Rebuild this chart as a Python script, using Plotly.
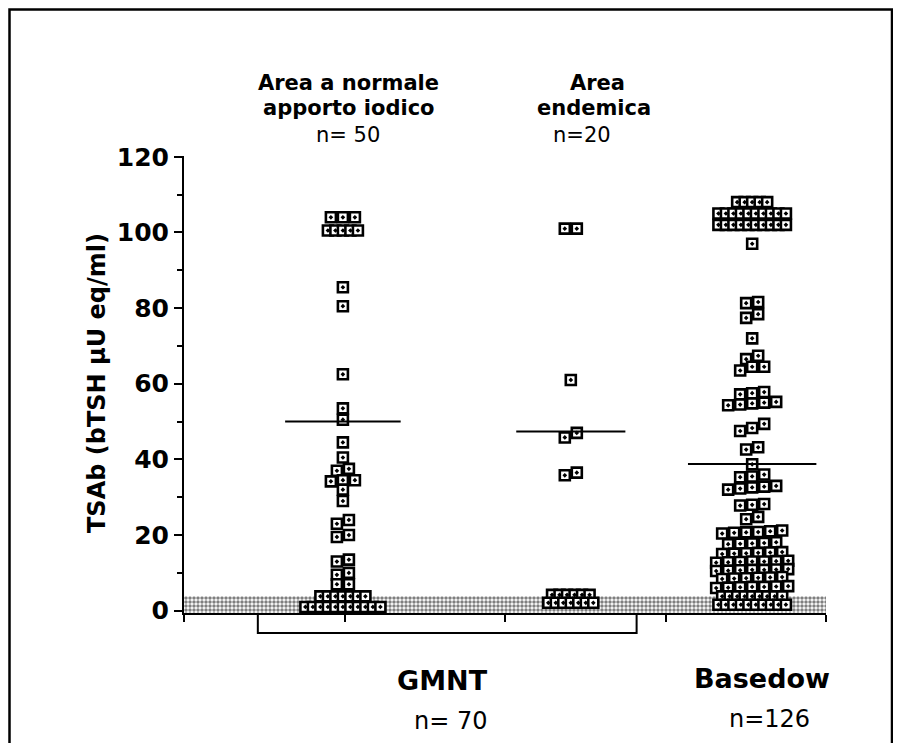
import plotly.graph_objects as go

# ---------------- data ----------------
group_names = ["Area a normale apporto iodico", "Area endemica", "Basedow"]
group_n = [50, 20, 126]

normal_iodine = ([104, 104, 104] + [100.5] * 5 +
                 [85.5, 80.5, 62.5, 53.5, 50.5, 44.5, 40.5,
                  37.5, 37, 34.5, 34.5, 34.2, 32, 29,
                  24, 23, 20, 19.5, 13.5, 13, 10, 9.5, 7, 7] +
                 [3.8] * 7 + [1.0] * 11)

endemic_area = ([101, 101, 61, 47, 45.8, 36.5, 35.8] +
                [4.2] * 6 + [2.1] * 7)

basedow = ([108] * 5 + [105] * 10 + [102] * 10 +
           [97, 81.6, 81.3, 78.4, 77.4, 72, 67.4, 66.5,
            64.5, 64.5, 63.5, 57.8, 57.5, 57.2,
            55.0, 54.5, 55.2, 54.8, 54.3,
            49.4, 48.3, 47.5, 43.2, 42.6, 38.7,
            35.3, 36.0, 35.5,
            32.8, 32.3, 32.0, 32.6, 33.0,
            28.2, 27.8, 28.0,
            24.8, 24.2,
            21.0, 20.6, 20.8, 20.4, 21.2, 20.7,
            17.9, 17.6, 18.1, 17.7, 17.8,
            15.4, 15.0, 15.2, 15.5, 15.1, 15.3,
            13.0, 12.8, 13.2, 12.9, 13.1, 12.7, 13.0,
            10.8, 10.6, 11.0, 10.7, 10.9, 10.5, 10.8,
            8.7, 8.5, 8.9, 8.6, 8.8, 8.4,
            6.3, 6.1, 6.5, 6.2, 6.4, 6.0, 6.3] +
           [3.8] * 9 + [1.6] * 10)

group_means = [50.0, 47.4, 38.8]
reference_band = (-1.0, 3.8)      # stippled normal range of the assay
y_ticks = [0, 20, 40, 60, 80, 100, 120]

# ---------------- layout constants ----------------
# the page body has an 8px margin, so figure coords = page coords - 8
OFF = 8
W, H = 901 - 2 * OFF, 751 - 2 * OFF
PLOT_LEFT, PLOT_RIGHT, PLOT_TOP, PLOT_BOTTOM = 184, 826, 156, 613  # page px
PW, PH = PLOT_RIGHT - PLOT_LEFT, PLOT_BOTTOM - PLOT_TOP
L, T = PLOT_LEFT - OFF, PLOT_TOP - OFF
R, B = W - L - PW, H - T - PH
X_RANGE = [0, 4]
Y_RANGE = [-0.6, 120.2]
PX_PER_X = PW / (X_RANGE[1] - X_RANGE[0])
col_x = [0.99, 2.41, 3.54]
mean_half = [0.36, 0.34, 0.40]
FONT = "DejaVu Sans"


def px(x):
    return (x - PLOT_LEFT) / PW


def py(y):
    return (PLOT_BOTTOM - y) / PH


def rows_of(values, tol=1.25):
    rows = []
    for v in sorted(values, reverse=True):
        if rows and rows[-1][-1] - v <= tol:
            rows[-1].append(v)
        else:
            rows.append([v])
    return rows


def swarm(values, center):
    xs, ys = [], []
    for row in rows_of(values):
        n = len(row)
        tight = n >= 4 and (max(row) - min(row)) < 0.05
        step = (7.5 if tight else 12.0) / PX_PER_X
        for i, v in enumerate(sorted(row)):
            xs.append(center + (i - (n - 1) / 2) * step)
            ys.append(v)
    return xs, ys


fig = go.Figure()

# stippled band
fig.add_trace(go.Scatter(
    x=[X_RANGE[0], X_RANGE[1], X_RANGE[1], X_RANGE[0], X_RANGE[0]],
    y=[reference_band[0], reference_band[0], reference_band[1],
       reference_band[1], reference_band[0]],
    mode="lines", fill="toself", line=dict(width=0),
    fillpattern=dict(shape=".", fgcolor="black", bgcolor="white",
                     size=4, solidity=0.6),
    hoverinfo="skip", showlegend=False))

for vals, cx, m, hw in zip([normal_iodine, endemic_area, basedow],
                           col_x, group_means, mean_half):
    xs, ys = swarm(vals, cx)
    fig.add_trace(go.Scatter(
        x=xs, y=ys, mode="markers", cliponaxis=False, showlegend=False,
        marker=dict(symbol="square-dot", size=10, color="white",
                    line=dict(color="black", width=2.6))))
    fig.add_trace(go.Scatter(
        x=[cx - hw, cx + hw], y=[m, m], mode="lines", showlegend=False,
        line=dict(color="black", width=2)))

annots = [
    ("<b>Area a normale</b>", 348, 83, 21),
    ("<b>apporto iodico</b>", 349, 108, 21),
    (f"n= {group_n[0]}", 348, 135, 21),
    ("<b>Area</b>", 597, 83, 21),
    ("<b>endemica</b>", 594, 108, 21),
    (f"n={group_n[1]}", 582, 135, 21),
    ("<b>GMNT</b>", 442, 680, 27),
    ("<b>Basedow</b>", 762, 678, 27),
    (f"n= {group_n[0] + group_n[1]}", 451, 721, 24),
    (f"n={group_n[2]}", 769, 719, 24),
]
annotations = [dict(text=t, x=px(x), y=py(y), xref="paper", yref="paper",
                    xanchor="center", yanchor="middle", showarrow=False,
                    font=dict(family=FONT, size=s, color="black"))
               for t, x, y, s in annots]
annotations.append(dict(
    text="<b>TSAb (bTSH µU eq/ml)</b>", x=px(97), y=py(383),
    xref="paper", yref="paper", xanchor="center", yanchor="middle",
    showarrow=False, textangle=-90,
    font=dict(family=FONT, size=24, color="black")))

shapes = [
    # bracket grouping the two GMNT columns
    dict(type="path", xref="x", yref="paper",
         path=(f"M{col_x[0] - 0.53},0 L{col_x[0] - 0.53},{-20 / PH} "
               f"L{col_x[1] + 0.41},{-20 / PH} L{col_x[1] + 0.41},0"),
         line=dict(color="black", width=2)),
    # outer frame
    dict(type="rect", xref="paper", yref="paper",
         x0=px(9.5), x1=px(892), y0=py(760), y1=py(9.5),
         line=dict(color="black", width=2.5)),
]

fig.update_layout(
    width=W, height=H,
    margin=dict(l=L, r=R, t=T, b=B, pad=0),
    paper_bgcolor="white", plot_bgcolor="white",
    font=dict(family=FONT, color="black"),
    annotations=annotations, shapes=shapes,
    xaxis=dict(range=X_RANGE, showgrid=False, zeroline=False,
               showline=True, linecolor="black", linewidth=2,
               ticks="outside", tickvals=[0, 1, 2, 3, 4], ticklen=7,
               tickwidth=2, tickcolor="black", showticklabels=False,
               fixedrange=True),
    yaxis=dict(range=Y_RANGE, showgrid=False, zeroline=False,
               showline=True, linecolor="black", linewidth=2,
               ticks="outside", tickvals=y_ticks, ticklen=8, tickwidth=2,
               tickcolor="black",
               minor=dict(dtick=10, ticklen=5, tickwidth=1.5,
                          tickcolor="black", ticks="outside"),
               tickfont=dict(family=FONT, size=25, color="black",
                             weight="bold"),
               fixedrange=True),
)

fig.write_html("out.html")
